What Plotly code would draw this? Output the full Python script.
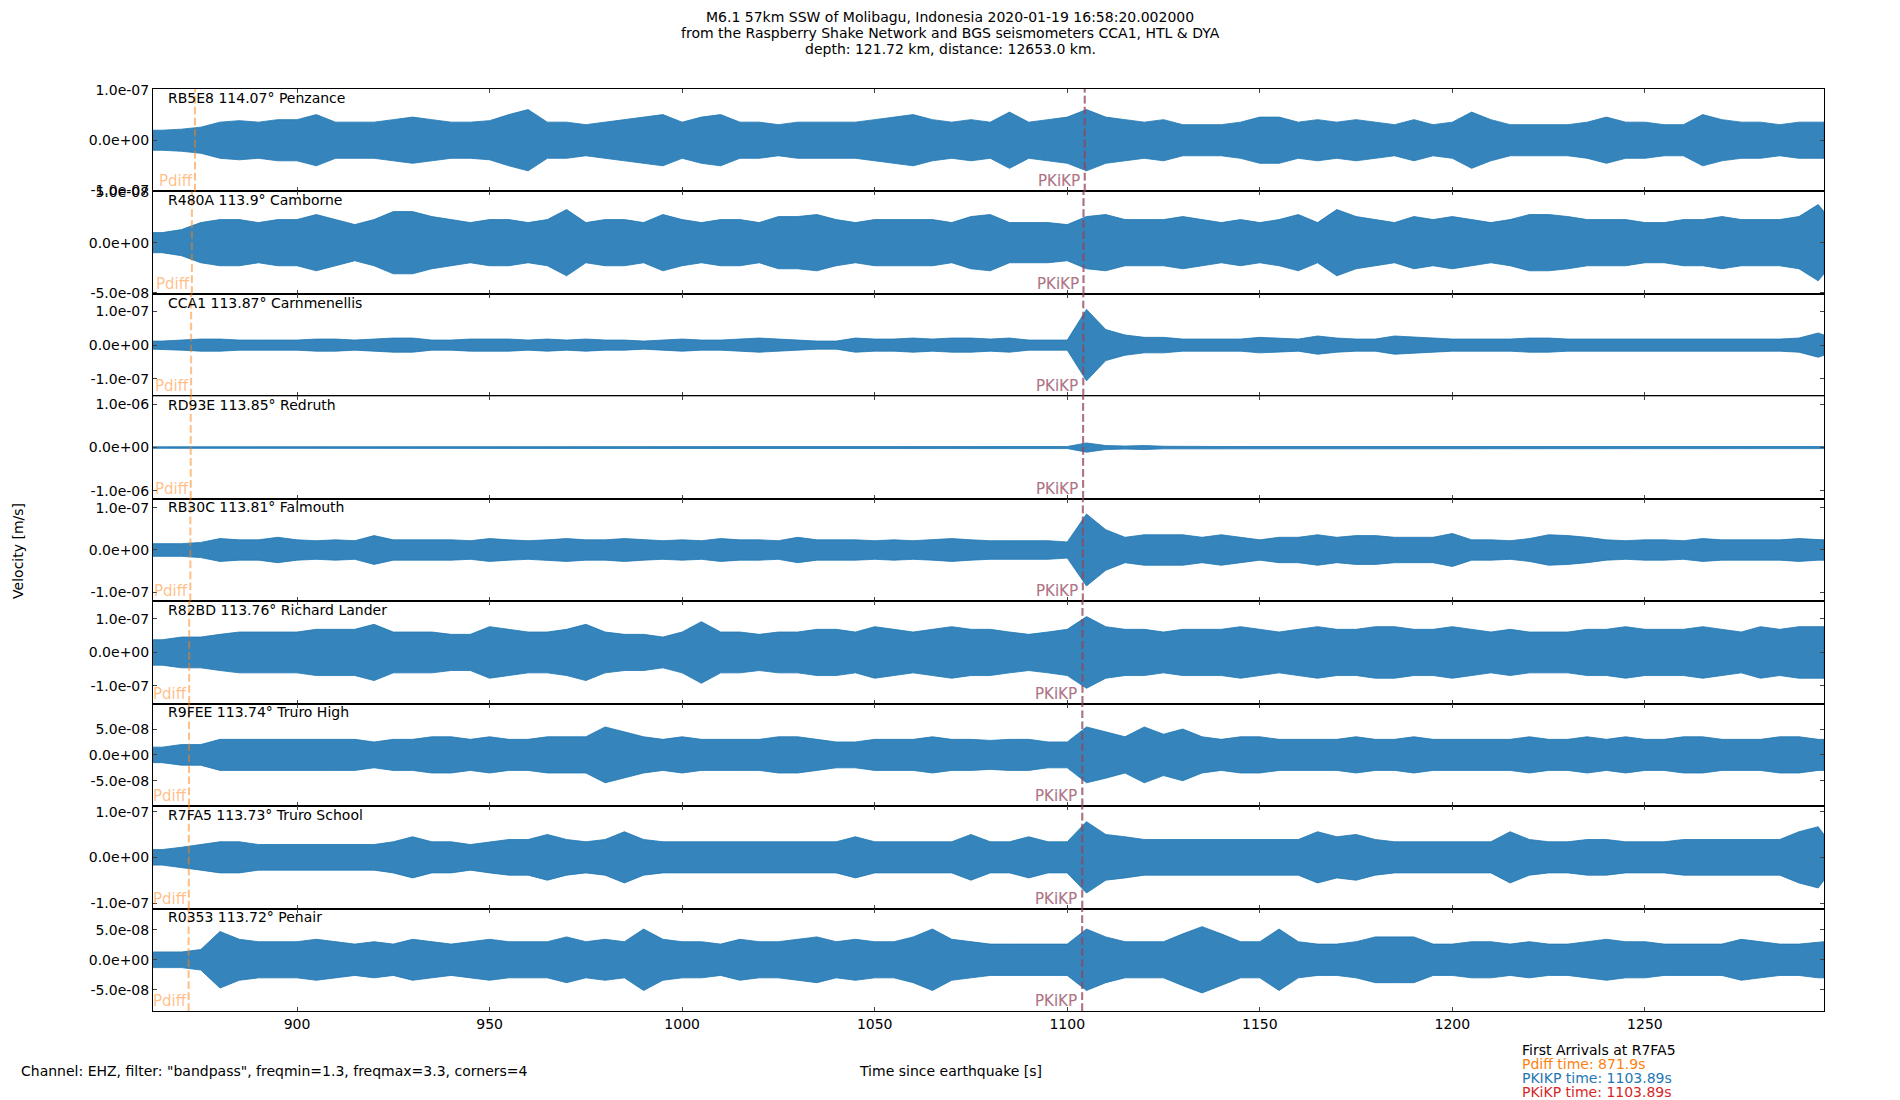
import plotly.graph_objects as go
from plotly.subplots import make_subplots

# station info, top panel to bottom panel
stations = ["RB5E8", "R480A", "CCA1", "RD93E", "RB30C", "R82BD", "R9FEE", "R7FA5", "R0353"]
distances = ["114.07", "113.9", "113.87", "113.85", "113.81", "113.76", "113.74", "113.73", "113.72"]
places = ["Penzance", "Camborne", "Carnmenellis", "Redruth", "Falmouth",
          "Richard Lander", "Truro High", "Truro School", "Penair"]

# arrival times [s]
pdiff_times = [873.5, 872.7, 872.5, 872.4, 872.3, 872.0, 871.95, 871.9, 871.85]
pkikp_times = [1104.54, 1104.22, 1104.16, 1104.12, 1104.05, 1103.95, 1103.91, 1103.89, 1103.87]

# trace window [s]
t_start, t_end = 862.6, 1296.5
times = [t_start] + list(range(865, 1300, 5)) + [t_end]

# trace envelope (peak |velocity|, x1e-8 m/s), read every 5 s
amp_rb5e8 = [2.0, 2.0, 2.2, 2.6, 3.6, 3.9, 3.6, 4.1, 4.1, 5.1,
             3.6, 3.6, 3.6, 4.1, 4.6, 4.1, 3.6, 3.6, 3.9, 5.1,
             6.1, 3.6, 3.6, 3.1, 3.6, 4.1, 4.6, 5.1, 3.6, 4.6,
             5.1, 3.6, 3.6, 3.1, 3.6, 3.6, 3.6, 3.6, 4.1, 4.6,
             5.1, 4.1, 3.6, 4.1, 3.6, 5.6, 3.6, 4.1, 4.6, 6.1,
             4.6, 4.1, 3.6, 4.1, 3.1, 3.1, 3.1, 3.6, 4.6, 4.6,
             3.6, 4.1, 3.6, 4.1, 3.6, 3.1, 4.1, 3.1, 3.6, 5.6,
             4.1, 3.1, 3.1, 3.1, 3.1, 3.6, 4.6, 3.6, 3.6, 3.1,
             3.1, 5.1, 4.1, 3.6, 3.6, 3.1, 3.6, 3.6, 3.6]
amp_r480a = [1.0, 1.0, 1.3, 2.0, 2.3, 2.3, 2.0, 2.3, 2.3, 2.8,
             2.3, 1.8, 2.3, 3.1, 3.1, 2.6, 2.3, 2.0, 2.3, 2.3,
             2.0, 2.3, 3.3, 2.0, 2.3, 2.3, 2.0, 2.8, 2.3, 2.0,
             2.3, 2.3, 2.0, 2.6, 2.6, 2.8, 2.3, 2.0, 2.3, 2.3,
             2.3, 2.3, 2.0, 2.6, 2.8, 2.0, 2.0, 2.0, 1.8, 2.6,
             2.8, 2.3, 2.3, 2.3, 2.6, 2.3, 2.0, 2.3, 2.0, 2.3,
             2.8, 2.0, 3.3, 2.6, 2.3, 2.0, 2.6, 2.3, 2.6, 2.3,
             2.0, 2.3, 2.8, 2.8, 2.6, 2.3, 2.3, 2.3, 2.0, 2.0,
             2.3, 2.3, 2.6, 2.3, 2.3, 2.3, 2.6, 3.8, 3.1]
amp_cca1 = [1.2, 1.2, 1.5, 1.8, 1.8, 1.5, 1.5, 1.5, 1.5, 1.8,
            1.8, 1.5, 1.8, 2.1, 2.1, 1.5, 1.5, 1.8, 1.8, 1.8,
            1.5, 1.8, 1.5, 1.8, 1.5, 1.5, 1.2, 1.5, 1.8, 1.5,
            1.5, 1.8, 2.1, 1.8, 1.5, 1.2, 1.2, 2.1, 1.8, 1.8,
            2.1, 1.8, 2.1, 2.1, 1.8, 2.1, 1.5, 1.5, 1.5, 10.6,
            4.6, 3.0, 2.3, 2.3, 1.8, 1.8, 1.8, 1.8, 2.3, 2.1,
            1.8, 2.7, 2.1, 1.8, 1.8, 2.7, 2.3, 2.1, 1.8, 1.8,
            1.8, 1.8, 2.1, 2.1, 1.8, 1.8, 1.8, 1.8, 1.8, 1.8,
            1.8, 1.8, 1.8, 1.8, 1.8, 1.8, 2.1, 3.6, 3.0]
amp_rd93e = [1.8, 1.8, 1.8, 2.4, 1.8, 2.4, 1.8, 2.4, 1.8, 2.4,
             2.4, 2.4, 3.5, 2.4, 1.8, 2.4, 1.8, 2.4, 2.4, 1.8,
             2.4, 3.5, 2.4, 1.8, 2.4, 2.4, 1.8, 2.4, 2.4, 1.8,
             2.4, 1.8, 2.4, 1.8, 2.4, 2.4, 1.8, 1.8, 2.4, 1.8,
             1.8, 2.4, 1.8, 2.4, 1.8, 2.4, 1.8, 2.4, 2.4, 10.6,
             4.7, 3.5, 4.7, 3.0, 2.4, 2.4, 2.4, 2.4, 2.4, 2.4,
             2.4, 2.4, 3.0, 2.4, 2.4, 2.4, 2.4, 2.4, 2.4, 2.4,
             2.4, 2.4, 2.4, 3.0, 2.4, 2.4, 3.0, 2.4, 2.4, 2.4,
             2.4, 2.4, 2.4, 2.4, 3.0, 2.4, 2.4, 2.4, 2.4]
amp_rb30c = [1.5, 1.5, 1.5, 1.8, 2.7, 2.4, 2.4, 3.0, 2.4, 2.2,
             2.4, 2.2, 3.4, 2.4, 2.4, 2.4, 2.4, 2.2, 2.7, 2.4,
             2.2, 2.4, 2.7, 2.4, 2.4, 2.7, 2.4, 2.2, 2.4, 2.2,
             2.7, 2.4, 2.4, 2.2, 3.0, 2.4, 2.4, 2.4, 2.2, 2.4,
             2.2, 2.4, 2.7, 2.4, 2.2, 2.2, 2.2, 2.2, 1.9, 8.5,
             4.8, 3.0, 3.6, 3.6, 3.6, 3.0, 3.6, 3.0, 2.4, 3.0,
             3.0, 3.6, 3.0, 3.4, 3.4, 3.0, 3.0, 3.0, 3.9, 2.4,
             2.4, 2.2, 2.7, 3.6, 3.4, 3.0, 2.4, 2.2, 2.4, 2.4,
             2.2, 2.7, 2.4, 2.4, 2.4, 2.4, 2.7, 2.4, 2.4]
amp_r82bd = [3.8, 3.8, 4.6, 4.6, 5.4, 6.1, 6.1, 6.1, 6.1, 6.9,
             6.9, 6.9, 8.4, 6.1, 6.1, 6.1, 5.4, 5.4, 7.7, 6.9,
             6.1, 6.1, 6.9, 8.4, 6.1, 5.4, 5.4, 4.6, 6.1, 9.2,
             6.1, 6.1, 5.4, 6.1, 6.1, 6.9, 6.9, 6.1, 7.7, 6.9,
             6.1, 6.9, 7.7, 6.9, 6.9, 6.1, 5.4, 6.1, 6.9, 10.7,
             7.7, 6.9, 6.9, 6.1, 6.9, 6.9, 6.9, 7.7, 6.9, 6.1,
             6.9, 7.7, 6.9, 6.9, 7.7, 7.7, 6.9, 6.9, 7.7, 6.9,
             6.1, 6.9, 6.1, 6.1, 6.1, 6.9, 6.9, 7.7, 6.9, 6.9,
             6.9, 7.7, 6.9, 6.1, 7.7, 6.9, 7.7, 7.7, 7.7]
amp_r9fee = [1.5, 1.5, 2.0, 2.0, 3.0, 3.0, 3.0, 3.0, 3.0, 3.0,
             3.0, 3.0, 2.5, 3.0, 3.0, 3.5, 3.5, 3.0, 3.5, 3.0,
             3.0, 3.5, 3.5, 3.5, 5.4, 4.5, 3.5, 3.0, 3.5, 3.0,
             3.0, 3.0, 3.0, 3.5, 3.5, 3.0, 2.5, 2.5, 3.0, 3.0,
             3.0, 3.5, 3.0, 3.0, 2.8, 3.0, 3.0, 2.5, 2.5, 5.4,
             4.5, 3.5, 5.4, 4.0, 5.0, 3.5, 3.0, 3.5, 3.5, 3.0,
             3.0, 3.0, 3.0, 3.5, 3.0, 3.0, 3.5, 3.0, 3.0, 3.0,
             3.0, 3.0, 3.5, 3.0, 3.0, 3.5, 3.0, 3.5, 3.0, 3.0,
             3.5, 3.5, 3.0, 3.0, 3.0, 3.5, 3.5, 3.0, 3.0]
amp_r7fa5 = [1.7, 1.7, 2.2, 2.8, 3.4, 3.4, 2.8, 2.8, 2.8, 2.8,
             2.8, 2.8, 2.8, 3.4, 4.5, 3.4, 3.4, 2.8, 3.4, 3.9,
             3.9, 5.0, 3.9, 3.4, 3.9, 5.6, 3.9, 3.4, 3.4, 3.4,
             3.4, 3.4, 3.4, 3.4, 3.4, 3.4, 3.4, 4.5, 3.4, 3.4,
             3.4, 3.4, 3.4, 5.0, 3.4, 3.4, 4.5, 3.4, 3.4, 7.8,
             5.0, 4.5, 3.9, 3.9, 3.9, 3.9, 3.9, 3.9, 3.9, 3.9,
             3.9, 5.6, 4.5, 5.0, 3.9, 3.4, 3.4, 3.4, 3.4, 3.4,
             3.4, 5.6, 3.9, 3.4, 3.4, 3.9, 3.9, 3.4, 3.4, 3.4,
             3.9, 3.9, 3.9, 3.9, 3.9, 3.9, 5.6, 6.7, 5.0]
amp_r0353 = [1.3, 1.3, 1.3, 1.7, 4.7, 3.4, 3.0, 3.0, 3.0, 3.4,
             3.0, 2.6, 3.0, 2.6, 3.4, 3.0, 2.6, 3.0, 3.4, 3.0,
             3.0, 3.0, 3.8, 3.0, 3.4, 3.0, 5.1, 3.4, 3.0, 3.0,
             2.6, 3.4, 3.0, 3.0, 3.4, 3.8, 3.0, 3.4, 3.0, 3.0,
             3.8, 5.1, 3.4, 3.0, 2.6, 2.6, 2.6, 2.6, 2.6, 5.1,
             3.8, 3.0, 3.0, 3.0, 4.3, 5.5, 4.3, 3.0, 3.0, 5.1,
             3.0, 2.6, 2.6, 3.0, 3.8, 3.8, 3.8, 2.6, 2.6, 3.0,
             3.0, 2.6, 3.0, 2.6, 2.6, 3.0, 3.4, 3.0, 3.0, 2.6,
             2.6, 2.6, 2.6, 3.4, 3.0, 2.6, 2.6, 3.0, 3.0]
amps = [amp_rb5e8, amp_r480a, amp_cca1, amp_rd93e, amp_rb30c,
        amp_r82bd, amp_r9fee, amp_r7fa5, amp_r0353]

# y axis half-extent and tick step per panel (x1e-8 m/s)
y_half = [10.2, 5.1, 15.2, 118, 12.1, 15.3, 9.9, 11.2, 8.5]
y_step = [10, 5, 10, 100, 10, 10, 5, 10, 5]

FONT = "DejaVu Sans"
BLUE = "#1f77b4"
DASH = "7.7px,3.3px"
n = len(stations)

fig = make_subplots(rows=n, cols=1, shared_xaxes=True, vertical_spacing=0)

for i in range(n):
    row = i + 1
    a = [v * 1e-8 for v in amps[i]]
    fig.add_trace(go.Scatter(x=times + times[::-1], y=a + [-v for v in a[::-1]],
                             fill="toself", fillcolor="rgba(31,119,180,0.9)", mode="lines",
                             line=dict(color=BLUE, width=0.8),
                             hoverinfo="skip", showlegend=False), row=row, col=1)

    h = y_half[i] * 1e-8
    s = y_step[i] * 1e-8
    fig.update_yaxes(range=[-h, h], tickvals=[-s, 0, s],
                     ticktext=[f"{-s:.1e}", f"{0:.1e}", f"{s:.1e}"],
                     row=row, col=1)

    xr = "x" if row == 1 else f"x{row}"
    yr = "y" if row == 1 else f"y{row}"

    # arrival markers
    for t, col in [(pdiff_times[i], "rgba(255,127,14,0.5)"),
                   (pkikp_times[i], "rgba(31,119,180,0.5)"),
                   (pkikp_times[i], "rgba(214,39,40,0.5)")]:
        fig.add_shape(type="line", xref=xr, yref=yr + " domain", x0=t, x1=t, y0=0, y1=1,
                      line=dict(color=col, width=2, dash=DASH))

    fig.add_annotation(xref=xr, yref=yr + " domain", x=pdiff_times[i], y=0, text="Pdiff",
                       xanchor="right", yanchor="bottom", showarrow=False, borderpad=0, xshift=-1,
                       font=dict(family=FONT, size=15, color="rgba(255,127,14,0.5)"))
    for label, col in [("PKIKP", "rgba(31,119,180,0.5)"), ("PKiKP", "rgba(214,39,40,0.5)")]:
        fig.add_annotation(xref=xr, yref=yr + " domain", x=pkikp_times[i], y=0, text=label,
                           xanchor="right", yanchor="bottom", showarrow=False, borderpad=0, xshift=-4,
                           font=dict(family=FONT, size=15, color=col))

    fig.add_annotation(xref=xr + " domain", yref=yr + " domain", x=0.008, y=0.915,
                       text=f"{stations[i]} {distances[i]}° {places[i]}",
                       xanchor="left", yanchor="middle", showarrow=False,
                       font=dict(family=FONT, size=14, color="black"))

fig.update_xaxes(range=[t_start, t_end], dtick=50, tick0=900, ticks="inside", ticklen=4,
                 showline=True, linecolor="black", linewidth=1, mirror="ticks",
                 showgrid=False, zeroline=False, tickfont=dict(family=FONT, size=14, color="black"))
fig.update_yaxes(ticks="inside", ticklen=4, showline=True, linecolor="black", linewidth=1,
                 mirror="ticks", showgrid=False, zeroline=False,
                 tickfont=dict(family=FONT, size=14, color="black"))

title_lines = ["M6.1 57km SSW of Molibagu, Indonesia 2020-01-19 16:58:20.002000",
               "from the Raspberry Shake Network and BGS seismometers CCA1, HTL & DYA",
               "depth: 121.72 km, distance: 12653.0 km."]
for k, line in enumerate(title_lines):
    fig.add_annotation(xref="paper", yref="paper", x=0.477, y=1.078 - 0.0172 * k, text=line,
                       xanchor="center", yanchor="middle", showarrow=False,
                       font=dict(family=FONT, size=14, color="black"))

fig.add_annotation(xref="paper", yref="paper", x=-0.0808, y=0.499, text="Velocity [m/s]",
                   textangle=-90, xanchor="center", yanchor="middle", showarrow=False,
                   font=dict(family=FONT, size=14, color="black"))
fig.add_annotation(xref="paper", yref="paper", x=-0.0802, y=-0.0759, xanchor="left",
                   text='Channel: EHZ, filter: "bandpass", freqmin=1.3, freqmax=3.3, corners=4',
                   showarrow=False, font=dict(family=FONT, size=14, color="black"))
fig.add_annotation(xref="paper", yref="paper", x=0.477, y=-0.0759, xanchor="center",
                   text="Time since earthquake [s]",
                   showarrow=False, font=dict(family=FONT, size=14, color="black"))

arrivals = [("First Arrivals at R7FA5", "black"),
            ("Pdiff time: 871.9s", "#ff7f0e"),
            ("PKIKP time: 1103.89s", "#1f77b4"),
            ("PKiKP time: 1103.89s", "#d62728")]
for k, (txt, col) in enumerate(arrivals):
    fig.add_annotation(xref="paper", yref="paper", x=0.818, y=-0.0423 - 0.0152 * k, text=txt,
                       xanchor="left", yanchor="middle", showarrow=False,
                       font=dict(family=FONT, size=14, color=col))

# page body has an 8px margin, so the figure is 8px smaller and margins shifted
fig.update_layout(width=1892, height=1092, margin=dict(l=145, r=76, t=81, b=89),
                  paper_bgcolor="white", plot_bgcolor="white", showlegend=False,
                  font=dict(family=FONT, size=14, color="black"))

fig.write_html("out.html")
